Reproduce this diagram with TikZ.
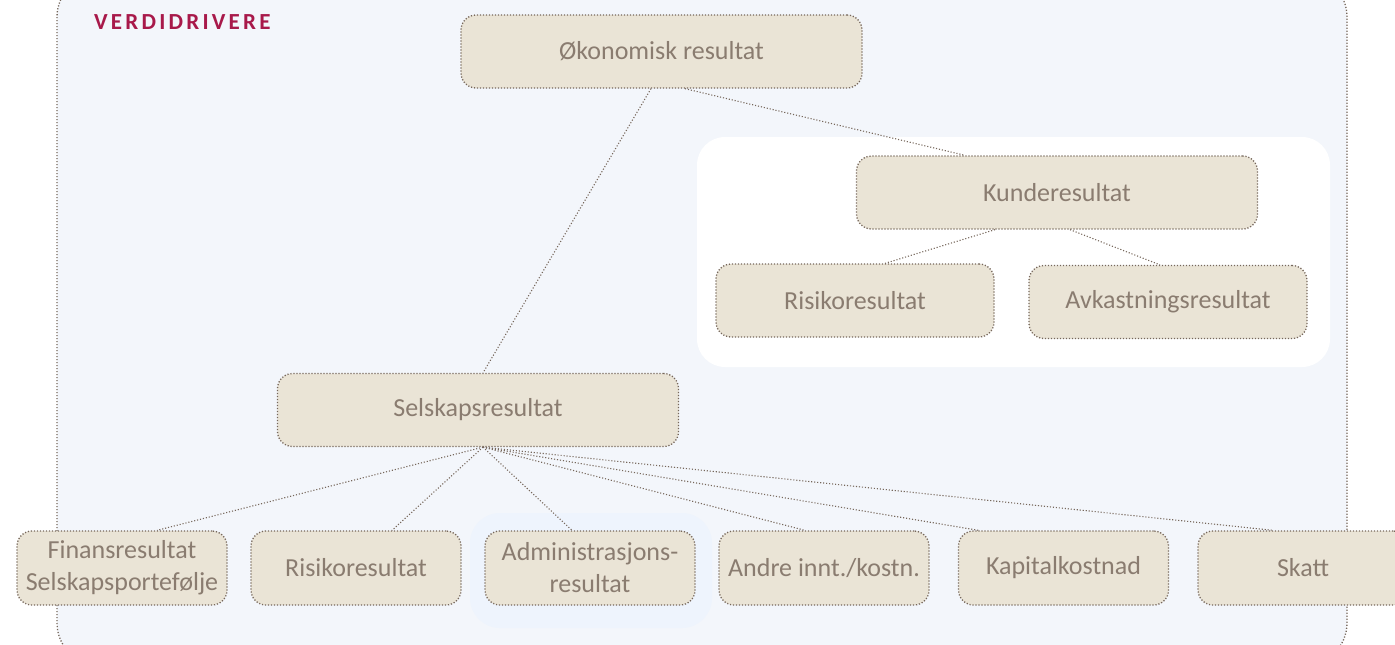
\documentclass[tikz,border=0pt]{standalone}
\usepackage{fontspec}
\setmainfont{Carlito}
\usetikzlibrary{calc}
\definecolor{panel}{HTML}{F3F6FB}
\definecolor{halo}{HTML}{EEF4FD}
\definecolor{boxfill}{HTML}{EAE4D6}
\definecolor{ink}{HTML}{8A7C70}
\definecolor{edge}{HTML}{76675B}
\definecolor{title}{HTML}{A8194A}
\begin{document}
\begin{tikzpicture}[x=1pt,y=-1pt,
  driver/.style={draw=edge, fill=boxfill, line width=1.3pt,
    dash pattern=on 1.2pt off 1.8pt, rounded corners=15pt,
    text=ink, align=center, inner sep=0pt,
    font=\fontsize{26}{32}\selectfont},
  wide/.style={driver, minimum width=401pt, minimum height=73pt},
  mid/.style={driver, minimum width=278pt, minimum height=73pt},
  leaf/.style={driver, minimum width=210pt, minimum height=74pt},
  link/.style={draw=edge, line width=1.1pt, dash pattern=on 1.1pt off 1.9pt}]
\useasboundingbox (0,0) rectangle (1395,645);

% panel backgrounds
\fill[white] (0,0) rectangle (1395,645);
\draw[fill=panel, draw=edge, line width=1.3pt, dash pattern=on 1.2pt off 1.8pt,
  rounded corners=42pt] (57,-25) rectangle (1347,665);
\fill[white, rounded corners=28pt] (697,137) rectangle (1330,367);
\fill[halo, rounded corners=30pt] (470,513) rectangle (712,628);

\node[anchor=base west, text=title, inner sep=0pt,
  font=\fontsize{23}{26}\selectfont\bfseries\addfontfeature{LetterSpace=14}]
  (heading) at (94,29.5) {VERDIDRIVERE};

% nodes
\node[wide] (oko) at (661.5,51.5) {Økonomisk resultat};
\node[wide] (kunde) at (1057,192.5) {Kunderesultat};
\node[mid] (risk1) at (855,300.5) {Risikoresultat};
\node[mid] (avk) at (1168,302) {Avkastningsresultat};
\node[wide] (selsk) at (478,410) {Selskapsresultat};
\node[leaf] (finans) at (122,568) {Finansresultat\\Selskapsportefølje};
\node[leaf] (risk2) at (356,568) {Risikoresultat};
\node[leaf] (admin) at (590,568) {Administrasjons-\\resultat};
\node[leaf] (andre) at (824,568) {Andre innt./kostn.};
\node[leaf] (kapital) at (1063.5,568) {Kapitalkostnad};
\node[leaf] (skatt) at (1303,568) {Skatt};

% connectors
\draw[link] ($(oko.south)+(-10.5,0)$) -- ($(selsk.north)+(5,0)$);
\draw[link] ($(oko.south)+(23.5,0)$) -- ($(kunde.north)+(-92,0)$);
\draw[link] ($(kunde.south)+(-62,0)$) -- ($(risk1.north)+(30,0)$);
\draw[link] ($(kunde.south)+(13,0)$) -- ($(avk.north)+(-8,0)$);
\draw[link] ($(selsk.south)+(5,0)$) -- ($(finans.north)+(35,0)$);
\draw[link] ($(selsk.south)+(5,0)$) -- ($(risk2.north)+(36,0)$);
\draw[link] ($(selsk.south)+(5,0)$) -- ($(admin.north)+(-18,0)$);
\draw[link] ($(selsk.south)+(5,0)$) -- ($(andre.north)+(-19,0)$);
\draw[link] ($(selsk.south)+(5,0)$) -- ($(kapital.north)+(-85,0)$);
\draw[link] ($(selsk.south)+(5,0)$) -- ($(skatt.north)+(-30,0)$);
\end{tikzpicture}
\end{document}
